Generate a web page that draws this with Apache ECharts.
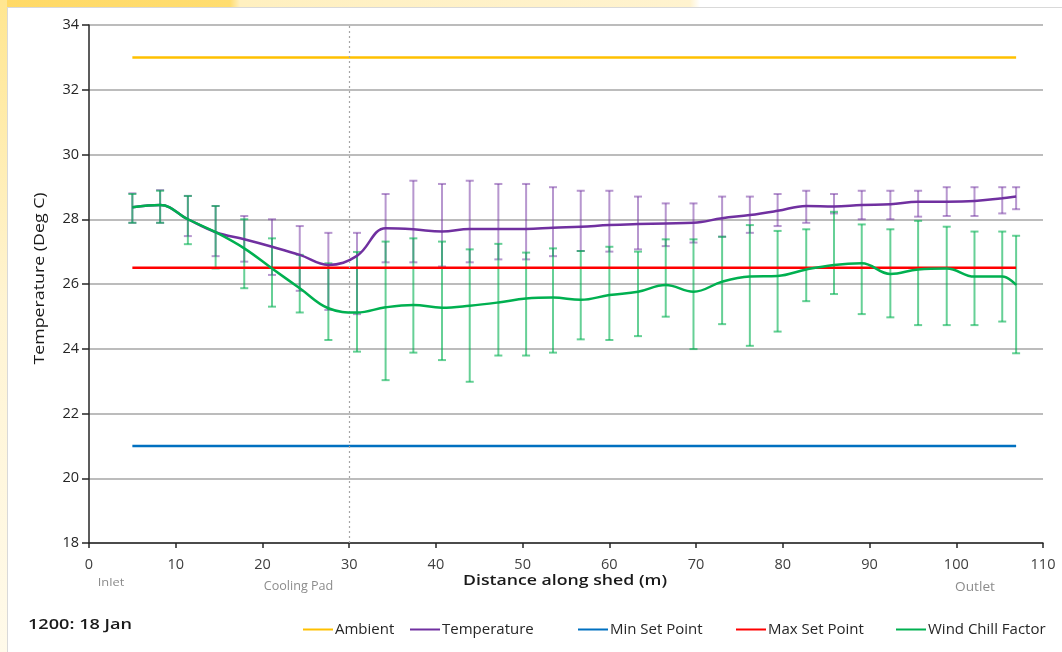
<!DOCTYPE html>
<html>
<head>
<meta charset="utf-8">
<script src="https://cdn.jsdelivr.net/npm/echarts@6/dist/echarts.min.js"></script>
<style>
  html, body { margin: 0; padding: 0; background: #ffffff; }
  #wrap { position: relative; width: 1062px; height: 652px; overflow: hidden; background: #ffffff; }
  #hlTop { position: absolute; left: 0; top: 0; width: 700px; height: 7px;
           background: linear-gradient(to right, #FFD966 0px, #FFDD70 230px, #FFF0C0 240px, #FFF3CF 690px, #ffffff 700px); }
  #hlLeft { position: absolute; left: 0; top: 0; width: 7px; height: 652px;
            background: linear-gradient(to bottom, #FFE690 0px, #FFF4D2 300px, #FFFAEA 652px); }
  #box { position: absolute; left: 7px; top: 7px; right: -2px; bottom: -2px; background: #fff;
         border-left: 1px solid #D9D9D9; border-top: 1px solid #D9D9D9; }
  #chart { position: absolute; left: 0; top: 0; width: 1062px; height: 652px; }
</style>
</head>
<body>
<div id="wrap">
  <div id="hlTop"></div>
  <div id="hlLeft"></div>
  <div id="box"></div>
  <div id="chart"></div>
</div>
<script>
// ---- data ----
const distance = [5, 8.2, 11.4, 14.6, 17.9, 21.1, 24.3, 27.6, 30.9, 34.2, 37.4, 40.7, 43.9, 47.2, 50.4, 53.5, 56.7,
                  60.0, 63.3, 66.5, 69.7, 73.0, 76.2, 79.4, 82.7, 85.9, 89.1, 92.4, 95.6, 98.9, 102.1, 105.3, 106.9];
const temperature = [28.37, 28.44, 28.0, 27.6, 27.38, 27.15, 26.9, 26.59, 26.87, 27.72, 27.69, 27.62, 27.70, 27.70, 27.70, 27.74, 27.77,
                     27.82, 27.85, 27.87, 27.89, 28.03, 28.13, 28.26, 28.41, 28.39, 28.44, 28.46, 28.54, 28.54, 28.56, 28.65, 28.70];
const temperatureHigh = [28.8, 28.9, 28.72, 28.41, 28.1, 28.0, 27.79, 27.58, 27.58, 28.78, 29.19, 29.09, 29.19, 29.09, 29.09, 28.99, 28.88,
                         28.88, 28.70, 28.49, 28.49, 28.70, 28.70, 28.78, 28.88, 28.78, 28.88, 28.88, 28.88, 28.99, 28.99, 28.99, 28.99];
const temperatureLow = [27.89, 27.89, 27.48, 26.86, 26.69, 26.28, 25.79, 25.2, 25.07, 26.67, 26.67, 26.54, 26.67, 26.76, 26.76, 26.86, 27.02,
                        27.0, 27.07, 27.17, 27.28, 27.46, 27.58, 27.79, 27.89, 28.18, 28.0, 28.0, 28.08, 28.1, 28.1, 28.18, 28.31];
const windChill = [28.37, 28.44, 28.0, 27.6, 27.1, 26.48, 25.87, 25.25, 25.12, 25.28, 25.35, 25.27, 25.33, 25.43, 25.55, 25.58, 25.51,
                   25.66, 25.76, 25.97, 25.76, 26.07, 26.23, 26.25, 26.45, 26.59, 26.64, 26.31, 26.45, 26.48, 26.23, 26.23, 25.97];
const windChillHigh = [28.78, 28.88, 28.72, 28.41, 28.0, 27.41, 26.9, 26.64, 26.99, 27.31, 27.41, 27.31, 27.07, 27.24, 26.97, 27.10, 27.02,
                       27.15, 27.0, 27.38, 27.38, 27.46, 27.82, 27.64, 27.69, 28.23, 27.84, 27.69, 27.95, 27.77, 27.62, 27.62, 27.49];
const windChillLow = [27.89, 27.89, 27.23, 26.48, 25.87, 25.30, 25.12, 24.27, 23.91, 23.03, 23.88, 23.65, 22.98, 23.79, 23.79, 23.88, 24.29,
                      24.27, 24.39, 24.99, 23.99, 24.76, 24.09, 24.53, 25.47, 25.69, 25.07, 24.97, 24.73, 24.73, 24.73, 24.84, 23.86];
const ambient = 33;
const minSetPoint = 21;
const maxSetPoint = 26.5;
const coolingPadAt = 30;
const seriesNames = ['Ambient', 'Temperature', 'Min Set Point', 'Max Set Point', 'Wind Chill Factor'];
const xTicks = { min: 0, max: 110, step: 10 };
const yTicks = { min: 18, max: 34, step: 2 };

// ---- build ----
const pairs = (ys) => distance.map((x, i) => [x, ys[i]]);
const flat = (v) => [[distance[0], v], [distance[distance.length - 1], v]];
const bars = (lo, hi) => distance.map((x, i) => [x, lo[i], hi[i]]);

function errorBar(color) {
  return function (params, api) {
    const x = api.value(0);
    const a = api.coord([x, api.value(1)]);
    const b = api.coord([x, api.value(2)]);
    const hw = 4;
    const st = { stroke: color, lineWidth: 2 };
    return { type: 'group', children: [
      { type: 'line', shape: { x1: a[0], y1: a[1], x2: b[0], y2: b[1] }, style: st },
      { type: 'line', shape: { x1: a[0] - hw, y1: a[1], x2: a[0] + hw, y2: a[1] }, style: st },
      { type: 'line', shape: { x1: b[0] - hw, y1: b[1], x2: b[0] + hw, y2: b[1] }, style: st }
    ]};
  };
}

const font = '"Open Sans", "Liberation Sans", sans-serif';
const colors = ['#FFC000', '#7030A0', '#0070C0', '#FF0000', '#00B050'];
const legendLeft = [298, 405, 573, 731, 891];

function label(text, x, y, fnt, fill, sx, rot) {
  return { type: 'text', x: x, y: y, scaleX: sx, rotation: rot || 0, silent: true,
           style: { text: text, font: fnt, fill: fill, textAlign: 'center', textVerticalAlign: 'middle' } };
}

const chart = echarts.init(document.getElementById('chart'), null, { renderer: 'canvas' });
chart.setOption({
  backgroundColor: 'transparent',
  animation: false,
  textStyle: { fontFamily: font },
  grid: { left: 89, right: 19, top: 25, bottom: 109, containLabel: false },
  legend: seriesNames.map((n, i) => ({
    data: [n], left: legendLeft[i], top: 617, selectedMode: false,
    icon: 'rect', itemWidth: 30, itemHeight: 2, itemGap: 0,
    textStyle: { fontFamily: font, fontSize: 15, color: '#262626', padding: [0, 0, 0, -3] }
  })),
  xAxis: {
    type: 'value', min: xTicks.min, max: xTicks.max, interval: xTicks.step,
    axisLine: { show: true, onZero: false, lineStyle: { color: '#262626', width: 1.5 } },
    axisTick: { show: true, length: 5, lineStyle: { color: '#262626', width: 1.5 } },
    axisLabel: { fontSize: 14.5, color: '#404040', margin: 14, fontFamily: font },
    splitLine: { show: false }
  },
  yAxis: {
    type: 'value', min: yTicks.min, max: yTicks.max, interval: yTicks.step,
    axisLine: { show: true, onZero: false, lineStyle: { color: '#262626', width: 1.5 } },
    axisTick: { show: true, length: 7, lineStyle: { color: '#262626', width: 1.5 } },
    axisLabel: { fontSize: 14.5, color: '#262626', margin: 10, fontFamily: font },
    splitLine: { show: true, lineStyle: { color: '#A6A6A6', width: 1.5 } }
  },
  graphic: [
    label('Distance along shed (m)', 565, 581, '600 15px ' + font, '#1a1a1a', 1.18),
    label('Inlet', 111, 583, '11.5px ' + font, '#8c8c8c', 1.12),
    label('Cooling Pad', 298.5, 587, '12px ' + font, '#8c8c8c', 1.05),
    label('Outlet', 975, 588, '12px ' + font, '#8c8c8c', 1.14),
    { type: 'text', x: 28, y: 625, scaleX: 1.25, silent: true,
      style: { text: '1200: 18 Jan', font: '600 14.5px ' + font, fill: '#1a1a1a', textAlign: 'left', textVerticalAlign: 'middle' } },
    label('Temperature (Deg C)', 40, 278.5, '14px ' + font, '#1a1a1a', 1.27, Math.PI / 2)
  ],
  series: [
    { name: seriesNames[0], type: 'line', data: flat(ambient), symbol: 'none', color: colors[0],
      lineStyle: { width: 2.5, color: colors[0] }, z: 3,
      markLine: { silent: true, symbol: 'none', label: { show: false },
        lineStyle: { color: '#A6A6A6', type: [2, 3], width: 1.2 }, data: [{ xAxis: coolingPadAt }] } },
    { name: 'tempErr', type: 'custom', renderItem: errorBar('rgba(112,48,160,0.5)'), data: bars(temperatureLow, temperatureHigh),
      encode: { x: 0, y: [1, 2] }, z: 2 },
    { name: seriesNames[1], type: 'line', data: pairs(temperature), symbol: 'none', smooth: 0.4, color: colors[1],
      lineStyle: { width: 2.5, color: colors[1] }, z: 4 },
    { name: seriesNames[2], type: 'line', data: flat(minSetPoint), symbol: 'none', color: colors[2],
      lineStyle: { width: 2.5, color: colors[2] }, z: 3 },
    { name: seriesNames[3], type: 'line', data: flat(maxSetPoint), symbol: 'none', color: colors[3],
      lineStyle: { width: 2.5, color: colors[3] }, z: 4 },
    { name: 'windErr', type: 'custom', renderItem: errorBar('rgba(0,176,80,0.6)'), data: bars(windChillLow, windChillHigh),
      encode: { x: 0, y: [1, 2] }, z: 3 },
    { name: seriesNames[4], type: 'line', data: pairs(windChill), symbol: 'none', smooth: 0.4, color: colors[4],
      lineStyle: { width: 2.5, color: colors[4] }, z: 5 }
  ]
});
</script>
</body>
</html>
